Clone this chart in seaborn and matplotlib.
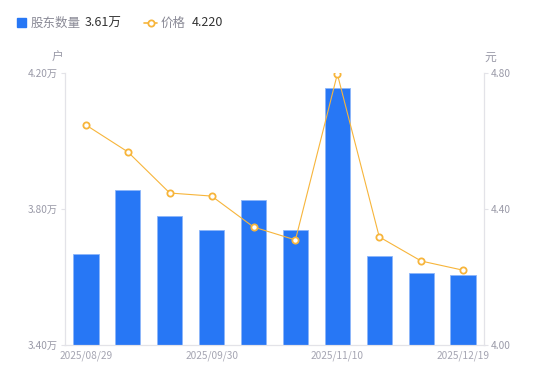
import seaborn as sns
import matplotlib.pyplot as plt
import pandas as pd
from matplotlib.lines import Line2D
from matplotlib.patches import Rectangle

# data
holders = [3.668, 3.856, 3.779, 3.738, 3.826, 3.738, 4.156, 3.662, 3.612, 3.605]   # 万户
prices = [4.647, 4.568, 4.447, 4.438, 4.347, 4.309, 4.797, 4.318, 4.247, 4.220]   # 元
holders_latest = '3.61万'
tick_pos = [0, 3, 6, 9]
tick_labels = ['2025/08/29', '2025/09/30', '2025/11/10', '2025/12/19']
left_ticks = [3.40, 3.80, 4.20]
right_ticks = [4.00, 4.40, 4.80]

blue = '#2777F5'
orange = '#F7B53B'
grey = '#9A9AA8'
axis_c = '#E3E3E8'

sns.set_style('white')
plt.rcParams['font.family'] = ['Noto Sans CJK SC', 'DejaVu Sans']

df = pd.DataFrame({'i': range(len(holders)), 'holders': holders, 'price': prices})

fig = plt.figure(figsize=(5.5, 3.81), dpi=100)
ax = fig.add_axes([65 / 550, 1 - 345 / 381, (484 - 65) / 550, (345 - 73) / 381])

sns.barplot(data=df, x='i', y='holders', color=blue, width=0.6, ax=ax,
            saturation=1, edgecolor='#8DB6FA', linewidth=0.6)
ax.set_ylim(3.40, 4.20)
ax.set_xlim(-0.5, len(holders) - 0.5)
ax.set_yticks(left_ticks)
ax.set_yticklabels([f'{v:.2f}万' for v in left_ticks])
ax.set_xticks(tick_pos)
ax.set_xticklabels(tick_labels)
ax.set_xlabel('')
ax.set_ylabel('')

ax2 = ax.twinx()
sns.lineplot(data=df, x='i', y='price', color=orange, linewidth=0.8, ax=ax2,
             marker='o', markersize=4.5, markerfacecolor='white',
             markeredgecolor=orange, markeredgewidth=1.3)
ax2.set_ylim(4.00, 4.80)
ax2.set_xlim(-0.5, len(holders) - 0.5)
ax2.set_yticks(right_ticks)
ax2.set_yticklabels([f'{v:.2f}' for v in right_ticks])
ax2.set_ylabel('')

for a in (ax, ax2):
    for s in a.spines.values():
        s.set_color(axis_c)
        s.set_linewidth(0.8)
    a.spines['top'].set_visible(False)
    a.tick_params(colors=grey, labelsize=7.3, length=3, width=0.8, pad=2)
    a.tick_params(axis='y', color=axis_c)
    a.tick_params(axis='y', labelcolor=grey)
ax.tick_params(axis='x', length=0, pad=4, labelcolor='#A5A5B2')

# unit labels
fig.text(58 / 550, 1 - 57 / 381, '户', color=grey, fontsize=8.5, ha='center', va='center')
fig.text(490 / 550, 1 - 57 / 381, '元', color=grey, fontsize=8.5, ha='center', va='center')

# legend
fig.patches.append(Rectangle((17 / 550, 1 - 27 / 381), 9 / 550, 9 / 381,
                             transform=fig.transFigure, color=blue, figure=fig))
fig.text(31 / 550, 1 - 23 / 381, '股东数量', color='#8A8A96', fontsize=9, va='center')
fig.text(85 / 550, 1 - 23 / 381, holders_latest, color='#333333', fontsize=9, va='center')
fig.lines.append(Line2D([144 / 550, 157 / 550], [1 - 23 / 381, 1 - 23 / 381],
                        transform=fig.transFigure, color=orange, linewidth=1.2, figure=fig))
fig.lines.append(Line2D([150.5 / 550], [1 - 23 / 381], transform=fig.transFigure,
                        color=orange, marker='o', markersize=4.5, markerfacecolor='white',
                        markeredgewidth=1.3, figure=fig))
fig.text(161 / 550, 1 - 23 / 381, '价格', color='#8A8A96', fontsize=9, va='center')
fig.text(192 / 550, 1 - 23 / 381, f'{prices[-1]:.3f}', color='#333333', fontsize=9, va='center')

fig.savefig('out.png', dpi=100)
